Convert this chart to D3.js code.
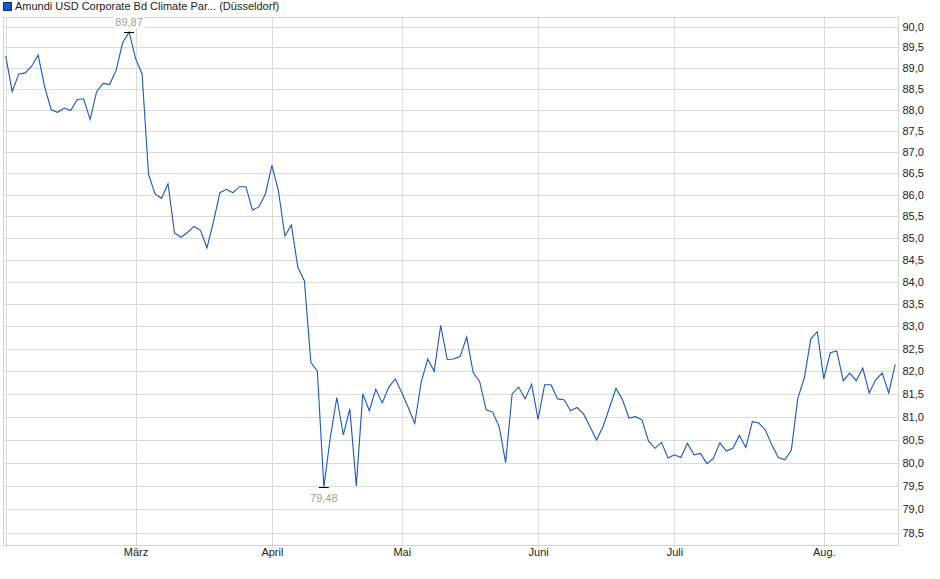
<!DOCTYPE html>
<html>
<head>
<meta charset="utf-8">
<script src="https://cdn.jsdelivr.net/npm/d3@7"></script>
<style>
	body { margin: 0; background: #fff; }
	text { font-family: "Liberation Sans", Arial, sans-serif; }
</style>
</head>
<body>
<div id="chart"></div>
<script>
// closing prices per month (trading days)
var feb = [89.29, 88.43, 88.85, 88.88, 89.04, 89.31, 88.55, 88.00, 87.94, 88.04, 87.98, 88.24, 88.26, 87.77, 88.43, 88.63, 88.60, 88.94, 89.60, 89.87];
var mar = [89.23, 88.86, 86.48, 86.02, 85.92, 86.26, 85.12, 85.02, 85.13, 85.27, 85.18, 84.78, 85.38, 86.05, 86.13, 86.05, 86.19, 86.19, 85.65, 85.72, 86.02];
var apr = [86.69, 86.10, 85.05, 85.30, 84.33, 84.03, 82.20, 82.00, 79.48, 80.55, 81.42, 80.60, 81.17, 79.50, 81.50, 81.13, 81.60, 81.30, 81.65, 81.83];
var may = [81.53, 81.20, 80.85, 81.76, 82.27, 82.00, 83.02, 82.26, 82.27, 82.33, 82.76, 81.97, 81.77, 81.15, 81.10, 80.78, 80.00, 81.50, 81.65, 81.39, 81.71];
var jun = [80.94, 81.70, 81.70, 81.39, 81.37, 81.13, 81.20, 81.06, 80.78, 80.49, 80.78, 81.20, 81.62, 81.37, 80.97, 81.00, 80.93, 80.47, 80.31, 80.44, 80.10];
var jul = [80.17, 80.11, 80.42, 80.17, 80.20, 79.98, 80.09, 80.43, 80.25, 80.31, 80.59, 80.33, 80.89, 80.86, 80.71, 80.38, 80.11, 80.06, 80.27, 81.40, 81.85, 82.72, 82.88];
var aug = [81.83, 82.41, 82.45, 81.79, 81.96, 81.79, 82.07, 81.52, 81.81, 81.96, 81.52, 82.15];

var months = [feb, mar, apr, may, jun, jul, aug];
var monthLabels = ["", "März", "April", "Mai", "Juni", "Juli", "Aug."];
var yTicks = [78.5, 79.0, 79.5, 80.0, 80.5, 81.0, 81.5, 82.0, 82.5, 83.0, 83.5, 84.0, 84.5, 85.0, 85.5, 86.0, 86.5, 87.0, 87.5, 88.0, 88.5, 89.0, 89.5, 90.0];
var seriesName = "Amundi USD Corporate Bd Climate Par... (Düsseldorf)";

var width = 940, height = 579;
var plotLeft = 3.5, plotRight = 898.5, plotTop = 17.5, plotBottom = 545.5;

var values = [].concat.apply([], months);
var monthStarts = [];
var n = 0;
months.forEach(function(m) { monthStarts.push(n); n += m.length; });

var svg = d3.select("#chart").append("svg")
	.attr("width", width)
	.attr("height", height);

var x = d3.scaleLinear()
	.domain([0, values.length - 1])
	.range([5.7, 895.2]);

var y = d3.scaleLog()
	.domain([78.23, 90.22])
	.range([plotBottom, plotTop]);

// horizontal grid
svg.append("g")
	.selectAll("line")
	.data(yTicks)
	.enter()
	.append("line")
	.attr("x1", plotLeft)
	.attr("x2", plotRight)
	.attr("y1", d => Math.round(y(d)) + 0.5)
	.attr("y2", d => Math.round(y(d)) + 0.5)
	.attr("stroke", "#dcdcdc");

// vertical grid at month starts
svg.append("g")
	.selectAll("line")
	.data(monthStarts)
	.enter()
	.append("line")
	.attr("x1", d => Math.round(x(d)) + 0.5)
	.attr("x2", d => Math.round(x(d)) + 0.5)
	.attr("y1", plotTop)
	.attr("y2", plotBottom + 2)
	.attr("stroke", "#dcdcdc");

// frame
svg.append("rect")
	.attr("x", plotLeft)
	.attr("y", plotTop)
	.attr("width", plotRight - plotLeft)
	.attr("height", plotBottom - plotTop)
	.attr("fill", "none")
	.attr("stroke", "#d4d4d4");

// y axis on the right
var yAxis = svg.append("g")
	.attr("transform", `translate(${plotRight},0)`)
	.call(d3.axisRight(y)
		.tickValues(yTicks)
		.tickSize(0)
		.tickPadding(4)
		.tickFormat(d => d.toFixed(1).replace(".", ",")));
yAxis.select(".domain").remove();
yAxis.selectAll("text")
	.attr("font-size", 11)
	.attr("font-family", "Liberation Sans, Arial, sans-serif")
	.attr("fill", "#222");

// x axis labels
var xAxis = svg.append("g")
	.attr("transform", `translate(0,${plotBottom})`)
	.call(d3.axisBottom(x)
		.tickValues(monthStarts)
		.tickSize(0)
		.tickPadding(3)
		.tickFormat((d, i) => monthLabels[i]));
xAxis.select(".domain").remove();
xAxis.selectAll("text")
	.attr("font-size", 11)
	.attr("font-family", "Liberation Sans, Arial, sans-serif")
	.attr("fill", "#222");

// price line
var line = d3.line()
	.x((d, i) => x(i))
	.y(d => y(d));

svg.append("path")
	.datum(values)
	.attr("d", line)
	.attr("fill", "none")
	.attr("stroke", "#1a56c4")
	.attr("stroke-width", 1.1);

// high / low markers
var hi = d3.maxIndex(values), lo = d3.minIndex(values);
var fmt = d => d.toFixed(2).replace(".", ",");

[[hi, -1], [lo, 1]].forEach(function(p) {
	var cx = x(p[0]), cy = y(values[p[0]]);
	svg.append("line")
		.attr("x1", cx - 5)
		.attr("x2", cx + 5)
		.attr("y1", Math.round(cy) + 0.5)
		.attr("y2", Math.round(cy) + 0.5)
		.attr("stroke", "#000");
	var ty = p[1] < 0 ? cy - 10 : cy + 11;
	var t = svg.append("text")
		.attr("x", cx)
		.attr("y", ty)
		.attr("dy", "0.35em")
		.attr("text-anchor", "middle")
		.attr("font-size", 11)
		.attr("fill", "#a39e99")
		.text(fmt(values[p[0]]));
	var bb = t.node().getBBox();
	svg.insert("rect", function() { return t.node(); })
		.attr("x", bb.x - 2)
		.attr("y", bb.y)
		.attr("width", bb.width + 4)
		.attr("height", bb.height)
		.attr("fill", "#fff");
});

// legend
svg.append("rect")
	.attr("x", 3.5)
	.attr("y", 2.5)
	.attr("width", 8)
	.attr("height", 8)
	.attr("fill", "#1a56c4")
	.attr("stroke", "#0d2f6e");

svg.append("text")
	.attr("x", 15)
	.attr("y", 10)
	.attr("font-size", 11)
	.attr("fill", "#222")
	.text(seriesName);
</script>
</body>
</html>
